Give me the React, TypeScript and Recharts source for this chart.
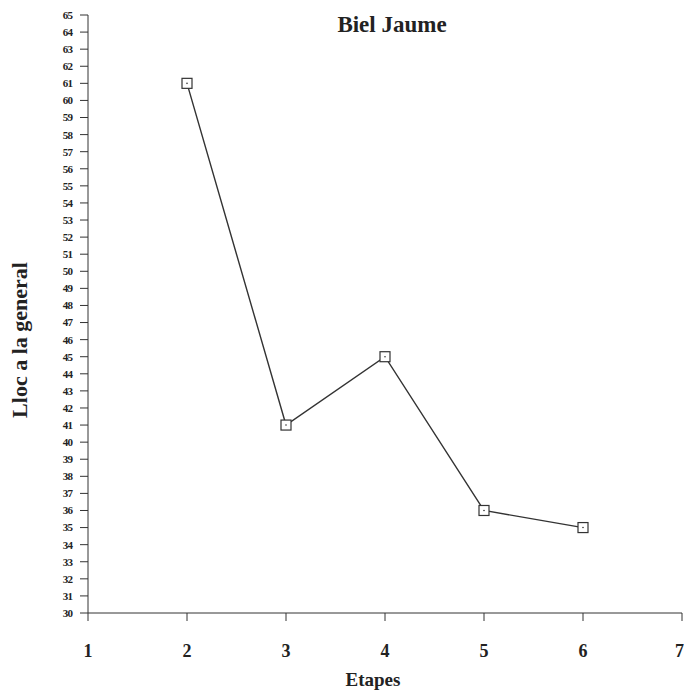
import { LineChart, Line, XAxis, YAxis } from 'recharts';

// Biel Jaume: position in the general classification per stage
const ETAPES = [2, 3, 4, 5, 6];
const LLOC = [61, 41, 45, 36, 35];
const X_TICKS = [1, 2, 3, 4, 5, 6, 7];
const Y_TICKS = Array.from({ length: 36 }, (_, i) => 30 + i);

const data = ETAPES.map((etapa, i) => ({ etapa, lloc: LLOC[i] }));

const INK = '#333';
const SERIF = '"Liberation Serif", "Times New Roman", serif';

function SquareDot(props: any) {
  const { cx, cy } = props;
  if (cx == null || cy == null) return null;
  return (
    <g>
      <rect x={cx - 5} y={cy - 5} width={10} height={10} fill="#fff" stroke={INK} strokeWidth={1.2} />
      <circle cx={cx} cy={cy} r={0.8} fill={INK} />
    </g>
  );
}

export default function App() {
  return (
    <div style={{ position: 'absolute', left: 0, top: 0, width: 684, height: 693, background: '#fff' }}>
      <LineChart width={684} height={693} data={data} margin={{ top: 15, right: 2, left: 0, bottom: 0 }}>
        <XAxis
          dataKey="etapa"
          type="number"
          domain={[1, 7]}
          ticks={X_TICKS}
          height={80}
          tickSize={8}
          tickMargin={23}
          stroke={INK}
          tick={{ fontFamily: SERIF, fontWeight: 'bold', fontSize: 18, fill: '#222' }}
        />
        <YAxis
          type="number"
          domain={[30, 65]}
          ticks={Y_TICKS}
          interval={0}
          width={88}
          tickSize={8}
          tickMargin={8}
          stroke={INK}
          tick={{ fontFamily: SERIF, fontWeight: 'bold', fontSize: 11, fill: '#222', letterSpacing: -0.9 }}
        />
        <Line
          dataKey="lloc"
          stroke={INK}
          strokeWidth={1.4}
          dot={<SquareDot />}
          activeDot={false}
          isAnimationActive={false}
        />
      </LineChart>
      <div
        style={{
          position: 'absolute', left: 392, top: 25, transform: 'translate(-50%, -50%)',
          fontFamily: SERIF, fontWeight: 'bold', fontSize: 23, color: '#222', whiteSpace: 'nowrap',
        }}
      >
        Biel Jaume
      </div>
      <div
        style={{
          position: 'absolute', left: 20, top: 340, transform: 'translate(-50%, -50%) rotate(-90deg)',
          fontFamily: SERIF, fontWeight: 'bold', fontSize: 22, color: '#222', whiteSpace: 'nowrap',
        }}
      >
        Lloc a la general
      </div>
      <div
        style={{
          position: 'absolute', left: 373, top: 680, transform: 'translate(-50%, -50%)',
          fontFamily: SERIF, fontWeight: 'bold', fontSize: 19, color: '#222', whiteSpace: 'nowrap',
        }}
      >
        Etapes
      </div>
    </div>
  );
}
